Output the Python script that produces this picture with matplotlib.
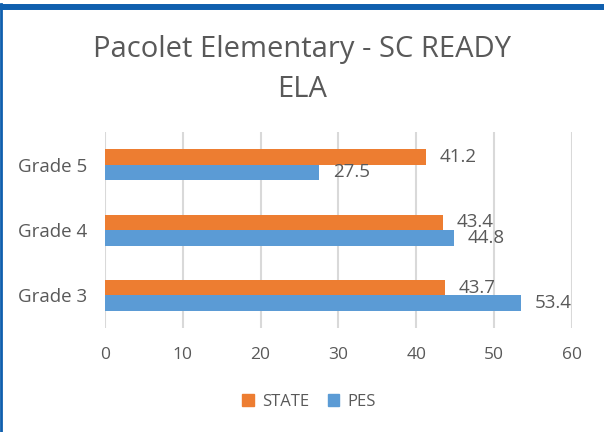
import matplotlib.pyplot as plt
from matplotlib.patches import Patch
import matplotlib.lines as mlines
import numpy as np

plt.rcParams["font.family"] = ["Open Sans", "DejaVu Sans"]

# datos del grafico
grados = ["Grade 3", "Grade 4", "Grade 5"]
state = [43.7, 43.4, 41.2]
pes = [53.4, 44.8, 27.5]
xticks = [0, 10, 20, 30, 40, 50, 60]

c_state = "#ED7D31"
c_pes = "#5B9BD5"
gris = "#595959"

fig = plt.figure(figsize=(6.04, 4.32), dpi=100)
ax = fig.add_axes([0.1738, 0.2407, 0.773, 0.4537])

y = np.arange(len(grados))
h = 0.237
b1 = ax.barh(y + h / 2, state, height=h, color=c_state, zorder=2)
b2 = ax.barh(y - h / 2, pes, height=h, color=c_pes, zorder=2)

for bars, vals in ((b1, state), (b2, pes)):
	for rect, v in zip(bars, vals):
		ax.annotate("%.1f" % v, (v, rect.get_y() + rect.get_height() / 2),
					xytext=(10, 0), textcoords="offset points",
					ha="left", va="center", fontsize=13.5, color=gris)

ax.set_xlim(0, 60)
ax.set_ylim(-0.5, 2.5)
ax.set_xticks(xticks)
ax.set_yticks(y)
ax.set_yticklabels(grados)
ax.tick_params(axis="x", length=0, pad=14, labelsize=12.5, labelcolor=gris)
ax.tick_params(axis="y", length=0, pad=13, labelsize=13.5, labelcolor=gris)
ax.grid(axis="x", color="#D9D9D9", linewidth=1.5, zorder=0)
for s in ax.spines.values():
	s.set_visible(False)

fig.text(0.5, 1 - 57 / 432, "Pacolet Elementary - SC READY", ha="center",
		 va="baseline", fontsize=21, color=gris)
fig.text(0.5, 1 - 97 / 432, "ELA", ha="center", va="baseline", fontsize=21, color=gris)

handles = [Patch(color=c_state, label="STATE"), Patch(color=c_pes, label="PES")]
fig.legend(handles=handles, loc="center", bbox_to_anchor=(309 / 604, 1 - 402 / 432),
		   ncol=2, frameon=False, fontsize=12, labelcolor=gris,
		   handlelength=0.7, handleheight=0.7, handletextpad=0.5, columnspacing=1.1)

# borde azul
azul = "#0F5FAE"
fig.add_artist(mlines.Line2D([0, 1], [1 - 6.5 / 432] * 2, color=azul, linewidth=4.3,
							 transform=fig.transFigure))
fig.add_artist(mlines.Line2D([1.4 / 604] * 2, [0, 1 - 4 / 432], color=azul, linewidth=2,
							 transform=fig.transFigure))

fig.savefig("out.png", dpi=100)
